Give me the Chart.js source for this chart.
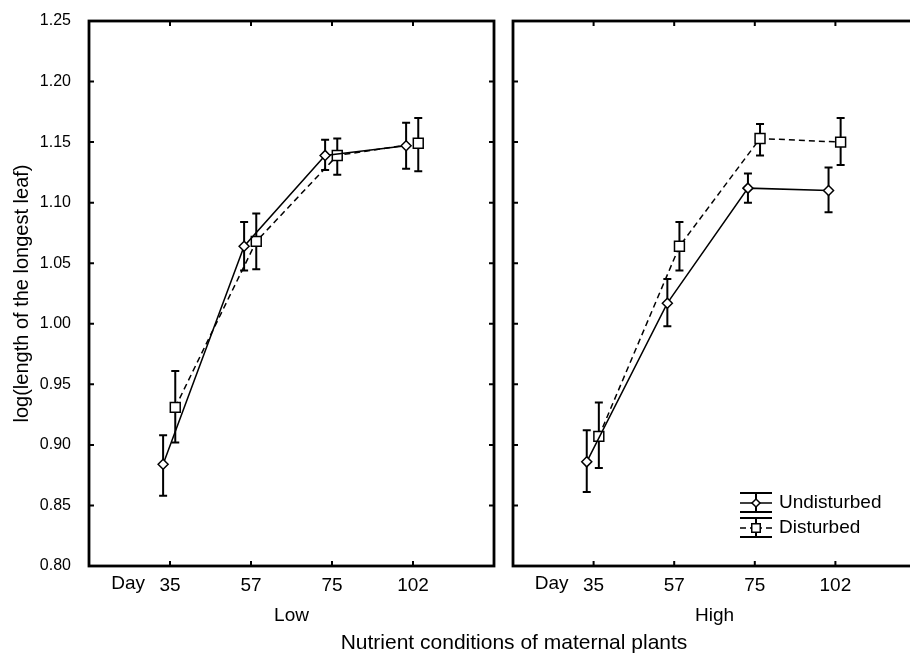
<!DOCTYPE html>
<html>
<head>
<meta charset="utf-8">
<script src="https://cdn.jsdelivr.net/npm/chart.js@4.4.1/dist/chart.umd.min.js"></script>
<style>
  html, body { margin: 0; padding: 0; background: #fff; }
  body {
    width: 910px; height: 653px; overflow: hidden; position: relative;
    font-family: Arial, "Liberation Sans", sans-serif;
  }
  #wrapLow { position: absolute; left: 0; top: 0; width: 500px; height: 653px; }
  #wrapHigh { position: absolute; left: 500px; top: 0; width: 416px; height: 653px; }
  #bottomTitle {
    position: absolute; left: 214px; top: 630px; width: 600px;
    text-align: center; font-size: 21px; line-height: 24px; color: #000;
  }
</style>
</head>
<body>
<div id="wrapLow"><canvas id="lowChart" width="500" height="653"></canvas></div>
<div id="wrapHigh"><canvas id="highChart" width="416" height="653"></canvas></div>
<div id="bottomTitle">Nutrient conditions of maternal plants</div>
<script>
'use strict';

// categories and tick labels
const dayLabels = ['35', '57', '75', '102'];
const dayPrefix = 'Day';
const yTickValues = [0.80, 0.85, 0.90, 0.95, 1.00, 1.05, 1.10, 1.15, 1.20, 1.25];
const seriesNames = ['Undisturbed', 'Disturbed'];

// Low nutrient panel
const lowUndisturbed = [0.884, 1.064, 1.139, 1.147];
const lowUndisturbedLower = [0.858, 1.044, 1.127, 1.128];
const lowUndisturbedUpper = [0.908, 1.084, 1.152, 1.166];
const lowDisturbed = [0.931, 1.068, 1.139, 1.149];
const lowDisturbedLower = [0.902, 1.045, 1.123, 1.126];
const lowDisturbedUpper = [0.961, 1.091, 1.153, 1.170];

// High nutrient panel
const highUndisturbed = [0.886, 1.017, 1.112, 1.110];
const highUndisturbedLower = [0.861, 0.998, 1.100, 1.092];
const highUndisturbedUpper = [0.912, 1.037, 1.124, 1.129];
const highDisturbed = [0.907, 1.064, 1.153, 1.150];
const highDisturbedLower = [0.881, 1.044, 1.139, 1.131];
const highDisturbedUpper = [0.935, 1.084, 1.165, 1.170];

const FONT = 'Arial, "Liberation Sans", sans-serif';
const DODGE = [-0.085, 0.065];

function toPoints(values, dodge) {
    return values.map((v, i) => ({ x: i + 1 + dodge, y: v }));
}

function makeDatasets(undist, undLo, undHi, dist, disLo, disHi) {
    return [{
        label: seriesNames[0],
        data: toPoints(undist, DODGE[0]),
        lower: undLo,
        upper: undHi,
        borderColor: '#000',
        borderWidth: 1.5,
        pointStyle: 'rectRot',
        pointRadius: 5,
        pointBackgroundColor: '#fff',
        pointBorderColor: '#000',
        pointBorderWidth: 1.5,
        fill: false,
        tension: 0
    }, {
        label: seriesNames[1],
        data: toPoints(dist, DODGE[1]),
        lower: disLo,
        upper: disHi,
        borderColor: '#000',
        borderWidth: 1.5,
        borderDash: [6, 4],
        pointStyle: 'rect',
        pointRadius: 7,
        pointBackgroundColor: '#fff',
        pointBorderColor: '#000',
        pointBorderWidth: 1.5,
        fill: false,
        tension: 0
    }];
}

const errorBars = {
    id: 'errorBars',
    beforeDatasetsDraw(chart) {
        const { ctx, scales: { y } } = chart;
        ctx.save();
        ctx.strokeStyle = '#000';
        ctx.lineWidth = 2;
        chart.data.datasets.forEach((ds, i) => {
            chart.getDatasetMeta(i).data.forEach((pt, j) => {
                const lo = y.getPixelForValue(ds.lower[j]);
                const hi = y.getPixelForValue(ds.upper[j]);
                ctx.beginPath();
                ctx.moveTo(pt.x, lo); ctx.lineTo(pt.x, hi);
                ctx.moveTo(pt.x - 4, lo); ctx.lineTo(pt.x + 4, lo);
                ctx.moveTo(pt.x - 4, hi); ctx.lineTo(pt.x + 4, hi);
                ctx.stroke();
            });
        });
        ctx.restore();
    }
};

// box frame with inward ticks, plus "Day" before the first tick label
const frameTicks = {
    id: 'frameTicks',
    afterDraw(chart) {
        const { ctx, chartArea: a, scales: { x, y } } = chart;
        ctx.save();
        ctx.strokeStyle = '#000';
        ctx.lineWidth = 2;
        ctx.beginPath();
        y.ticks.forEach(t => {
            const py = y.getPixelForValue(t.value);
            ctx.moveTo(a.left, py); ctx.lineTo(a.left + 5, py);
            ctx.moveTo(a.right, py); ctx.lineTo(a.right - 5, py);
        });
        x.ticks.forEach(t => {
            const px = x.getPixelForValue(t.value);
            ctx.moveTo(px, a.top); ctx.lineTo(px, a.top + 5);
            ctx.moveTo(px, a.bottom); ctx.lineTo(px, a.bottom - 5);
        });
        ctx.stroke();
        ctx.lineWidth = 2.8;
        ctx.strokeRect(a.left, a.top, a.right - a.left, a.bottom - a.top);

        ctx.fillStyle = '#000';
        ctx.font = '19px ' + FONT;
        ctx.textAlign = 'right';
        ctx.textBaseline = 'middle';
        ctx.fillText(dayPrefix, x.getPixelForValue(1) - 25, a.bottom + 17.5);
        ctx.restore();
    }
};

// legend with error-bar style symbols (right panel only)
const errLegend = {
    id: 'errLegend',
    afterDraw(chart) {
        const { ctx } = chart;
        const x0 = 240, x1 = 272, xc = 256;
        const rows = [503, 528];
        ctx.save();
        chart.data.datasets.forEach((ds, i) => {
            const ry = rows[i];
            ctx.strokeStyle = '#000';
            ctx.lineWidth = 2;
            ctx.setLineDash([]);
            ctx.beginPath();
            ctx.moveTo(x0, ry - 10); ctx.lineTo(x1, ry - 10);
            ctx.moveTo(x0, ry + 9); ctx.lineTo(x1, ry + 9);
            ctx.moveTo(xc, ry - 10); ctx.lineTo(xc, ry + 9);
            ctx.stroke();
            ctx.lineWidth = 1.5;
            ctx.setLineDash(ds.borderDash || []);
            ctx.beginPath();
            ctx.moveTo(x0, ry); ctx.lineTo(xc, ry);
            ctx.moveTo(x1, ry); ctx.lineTo(xc, ry);
            ctx.stroke();
            ctx.setLineDash([]);
            ctx.fillStyle = '#fff';
            ctx.strokeStyle = '#000';
            Chart.helpers.drawPoint(ctx, {
                pointStyle: ds.pointStyle,
                radius: ds.pointRadius - 1,
                rotation: 0,
                borderWidth: 1.5
            }, xc, ry);
            ctx.fillStyle = '#000';
            ctx.font = '19px ' + FONT;
            ctx.textAlign = 'left';
            ctx.textBaseline = 'middle';
            ctx.fillText(ds.label, 279, ry);
        });
        ctx.restore();
    }
};

function makeOptions(withYLabels, panelTitle, padRight, yWidth) {
    return {
        responsive: false,
        animation: false,
        events: [],
        layout: { autoPadding: false, padding: { left: 0, right: padRight, top: 21, bottom: 25 } },
        plugins: { legend: { display: false }, tooltip: { enabled: false } },
        scales: {
            x: {
                type: 'linear',
                min: 0,
                max: 5,
                grid: { display: false, drawTicks: false },
                border: { display: false },
                afterBuildTicks: s => { s.ticks = dayLabels.map((_, i) => ({ value: i + 1 })); },
                afterFit: s => { s.height = 62; s.paddingLeft = 0; s.paddingRight = 0; },
                ticks: {
                    autoSkip: false,
                    maxRotation: 0,
                    padding: 8,
                    color: '#000',
                    font: { family: FONT, size: 19 },
                    callback: (v, i) => dayLabels[i]
                },
                title: {
                    display: true,
                    text: panelTitle,
                    color: '#000',
                    font: { family: FONT, size: 19 },
                    padding: { top: 0, bottom: 1 }
                }
            },
            y: {
                type: 'linear',
                min: 0.8,
                max: 1.25,
                grid: { display: false, drawTicks: false },
                border: { display: false },
                afterBuildTicks: s => { s.ticks = yTickValues.map(v => ({ value: v })); },
                afterFit: s => { s.width = yWidth; s.paddingTop = 0; s.paddingBottom = 0; },
                ticks: {
                    display: withYLabels,
                    padding: 18,
                    color: '#000',
                    font: { family: FONT, size: 16 },
                    callback: v => v.toFixed(2)
                },
                title: {
                    display: withYLabels,
                    text: 'log(length of the longest leaf)',
                    color: '#000',
                    font: { family: FONT, size: 20 },
                    padding: { top: 10, bottom: 0 }
                }
            }
        }
    };
}

new Chart(document.getElementById('lowChart'), {
    type: 'line',
    data: {
        datasets: makeDatasets(lowUndisturbed, lowUndisturbedLower, lowUndisturbedUpper,
            lowDisturbed, lowDisturbedLower, lowDisturbedUpper)
    },
    options: makeOptions(true, 'Low', 6, 89),
    plugins: [errorBars, frameTicks]
});

new Chart(document.getElementById('highChart'), {
    type: 'line',
    data: {
        datasets: makeDatasets(highUndisturbed, highUndisturbedLower, highUndisturbedUpper,
            highDisturbed, highDisturbedLower, highDisturbedUpper)
    },
    options: makeOptions(false, 'High', 0, 13),
    plugins: [errorBars, frameTicks, errLegend]
});
</script>
</body>
</html>
